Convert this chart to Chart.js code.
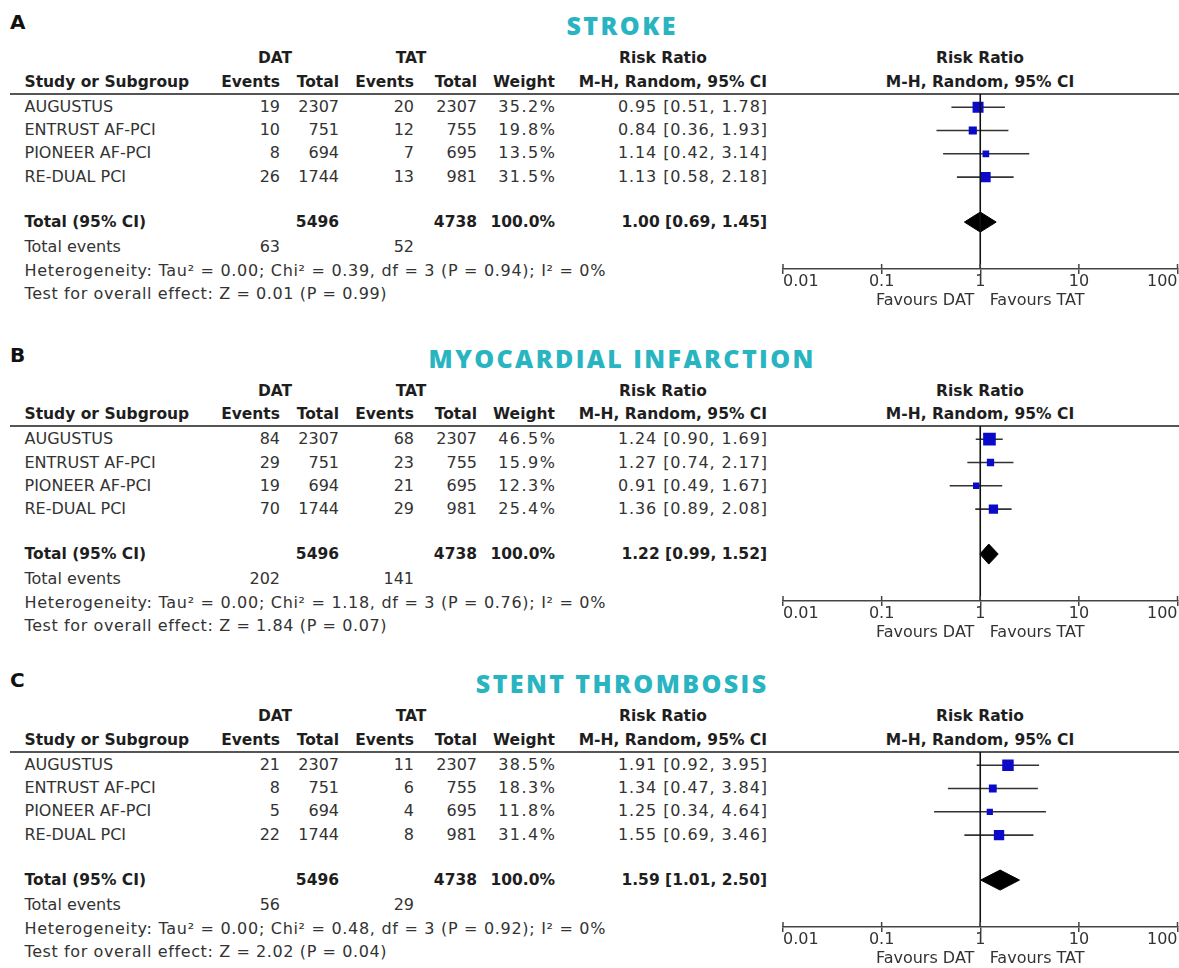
<!DOCTYPE html>
<html>
<head>
<meta charset="utf-8">
<title>DAT vs TAT forest plots</title>
<script src="https://cdn.jsdelivr.net/npm/chart.js@4.4.0/dist/chart.umd.min.js"></script>
<style>
  body { margin: 0; background: #fff; width: 1179px; height: 968px; position: relative; overflow: hidden;
         font-family: 'DejaVu Sans', sans-serif; color: #333; }
  .panel { position: absolute; left: 0; width: 1179px; height: 330px; }
  .t { position: absolute; white-space: nowrap; line-height: 20px; height: 20px; font-size: 16px; }
  .b { font-weight: bold; font-size: 15.5px; color: #1e1e1e; }
  .letter { position: absolute; left: 10px; font-weight: bold; font-size: 20px; line-height: 24px; color: #111; }
  .title { position: absolute; width: 600px; text-align: center; font-family: 'Open Sans', sans-serif;
           font-weight: 800; font-size: 25px; line-height: 30px; letter-spacing: 2.4px; color: #29b4c2; }
  .rule { position: absolute; left: 10px; width: 1169px; height: 2px; background: #555; }
  .plot { position: absolute; left: 770px; line-height: 0; }
  .plot canvas { display: block; }
</style>
</head>
<body>
<script>
// --- data ---
const studies = ['AUGUSTUS', 'ENTRUST AF-PCI', 'PIONEER AF-PCI', 'RE-DUAL PCI'];
const datTotals = [2307, 751, 694, 1744];
const tatTotals = [2307, 755, 695, 981];
const axisTicks = [0.01, 0.1, 1, 10, 100];

const panelLetters = ['A', 'B', 'C'];
const panelTitles = ['STROKE', 'MYOCARDIAL INFARCTION', 'STENT THROMBOSIS'];

// A. stroke
const strokeDatEvents = [19, 10, 8, 26];
const strokeTatEvents = [20, 12, 7, 13];
const strokeWeights = [35.2, 19.8, 13.5, 31.5];
const strokeRR = [0.95, 0.84, 1.14, 1.13];
const strokeLower = [0.51, 0.36, 0.42, 0.58];
const strokeUpper = [1.78, 1.93, 3.14, 2.18];
const strokeTotal = [1.00, 0.69, 1.45];

// B. myocardial infarction
const miDatEvents = [84, 29, 19, 70];
const miTatEvents = [68, 23, 21, 29];
const miWeights = [46.5, 15.9, 12.3, 25.4];
const miRR = [1.24, 1.27, 0.91, 1.36];
const miLower = [0.90, 0.74, 0.49, 0.89];
const miUpper = [1.69, 2.17, 1.67, 2.08];
const miTotal = [1.22, 0.99, 1.52];

// C. stent thrombosis
const stDatEvents = [21, 8, 5, 22];
const stTatEvents = [11, 6, 4, 8];
const stWeights = [38.5, 18.3, 11.8, 31.4];
const stRR = [1.91, 1.34, 1.25, 1.55];
const stLower = [0.92, 0.47, 0.34, 0.69];
const stUpper = [3.95, 3.84, 4.64, 3.46];
const stTotal = [1.59, 1.01, 2.50];

const totalWeight = ['100.0%', '100.0%', '100.0%'];
const totalDatEvents = [63, 202, 56];
const totalTatEvents = [52, 141, 29];
const hetTau2 = ['0.00', '0.00', '0.00'];
const hetChi2 = ['0.39', '1.18', '0.48'];
const hetDf = [3, 3, 3];
const hetP = ['0.94', '0.76', '0.92'];
const hetI2 = ['0%', '0%', '0%'];
const effectZ = ['0.01', '1.84', '2.02'];
const effectP = ['0.99', '0.07', '0.04'];

// --- layout ---
const PANEL_TOP = [0, 332.5, 658];
const RULE_Y = 93.5;       // header rule, also top of plot area
const ROW_Y0 = 106.7;      // first study row
const ROW_STEP = 23.3;
const TOTAL_ROW = 5.93;    // total row, in row units
const AXIS_Y = 268.5;
const Y_MIN = 1 - (ROW_Y0 - RULE_Y) / ROW_STEP;
const Y_MAX = 1 + (AXIS_Y - ROW_Y0) / ROW_STEP;

const panels = [
  { datEv: strokeDatEvents, tatEv: strokeTatEvents, w: strokeWeights, rr: strokeRR, lo: strokeLower, hi: strokeUpper, tot: strokeTotal },
  { datEv: miDatEvents, tatEv: miTatEvents, w: miWeights, rr: miRR, lo: miLower, hi: miUpper, tot: miTotal },
  { datEv: stDatEvents, tatEv: stTatEvents, w: stWeights, rr: stRR, lo: stLower, hi: stUpper, tot: stTotal },
];

const sum = arr => arr.reduce((a, b) => a + b, 0);
const ci = (r, l, h) => `${r.toFixed(2)} [${l.toFixed(2)}, ${h.toFixed(2)}]`;
const rowPx = idx => ROW_Y0 + (idx - 1) * ROW_STEP;

function addText(parent, x, y, str, opts = {}) {
  const el = document.createElement('div');
  el.className = 't' + (opts.bold ? ' b' : '');
  el.textContent = str;
  const align = opts.align || 'left';
  const ls = opts.ls || 0;
  const w = 640;
  let left = x;
  if (align === 'right') left = x - w + ls;
  else if (align === 'center') left = x - w / 2 + ls / 2;
  el.style.left = left + 'px';
  el.style.width = w + 'px';
  el.style.textAlign = align;
  el.style.top = (y - 10) + 'px';
  if (ls) el.style.letterSpacing = ls + 'px';
  parent.appendChild(el);
}

// columns (right edges unless noted)
const COL = { name: 24.5, datEv: 280, datTot: 339, tatEv: 414, tatTot: 477, weight: 555, ci: 767 };

// small upward tick marks across the axis line
const tickUp = {
  id: 'tickUp',
  afterDraw(chart) {
    const { ctx, scales: { x }, chartArea } = chart;
    ctx.save();
    ctx.strokeStyle = '#444';
    ctx.lineWidth = 1.5;
    axisTicks.forEach(v => {
      const px = x.getPixelForValue(v);
      ctx.beginPath();
      ctx.moveTo(px, chartArea.bottom - 5);
      ctx.lineTo(px, chartArea.bottom);
      ctx.stroke();
    });
    ctx.restore();
  }
};

Chart.defaults.font.family = "'DejaVu Sans', sans-serif";

panels.forEach((p, k) => {
  const panel = document.createElement('div');
  panel.className = 'panel';
  panel.style.top = PANEL_TOP[k] + 'px';
  document.body.appendChild(panel);

  const letter = document.createElement('div');
  letter.className = 'letter';
  letter.textContent = panelLetters[k];
  letter.style.top = (22 - 12) + 'px';
  panel.appendChild(letter);

  const title = document.createElement('div');
  title.className = 'title';
  title.textContent = panelTitles[k];
  title.style.left = (621 - 300 + 1.2) + 'px';
  title.style.top = (25 - 15) + 'px';
  panel.appendChild(title);

  // header
  addText(panel, 275, 58, 'DAT', { bold: true, align: 'center' });
  addText(panel, 411, 58, 'TAT', { bold: true, align: 'center' });
  addText(panel, 663, 58, 'Risk Ratio', { bold: true, align: 'center' });
  addText(panel, 980, 58, 'Risk Ratio', { bold: true, align: 'center' });
  addText(panel, COL.name, 81.5, 'Study or Subgroup', { bold: true });
  addText(panel, COL.datEv, 81.5, 'Events', { bold: true, align: 'right' });
  addText(panel, COL.datTot, 81.5, 'Total', { bold: true, align: 'right' });
  addText(panel, COL.tatEv, 81.5, 'Events', { bold: true, align: 'right' });
  addText(panel, COL.tatTot, 81.5, 'Total', { bold: true, align: 'right' });
  addText(panel, COL.weight, 81.5, 'Weight', { bold: true, align: 'right' });
  addText(panel, COL.ci, 81.5, 'M-H, Random, 95% CI', { bold: true, align: 'right' });
  addText(panel, 980, 81.5, 'M-H, Random, 95% CI', { bold: true, align: 'center' });

  const rule = document.createElement('div');
  rule.className = 'rule';
  rule.style.top = (RULE_Y - 1) + 'px';
  panel.appendChild(rule);

  // study rows
  studies.forEach((s, i) => {
    const y = rowPx(i + 1);
    addText(panel, COL.name, y, s);
    addText(panel, COL.datEv, y, String(p.datEv[i]), { align: 'right' });
    addText(panel, COL.datTot, y, String(datTotals[i]), { align: 'right' });
    addText(panel, COL.tatEv, y, String(p.tatEv[i]), { align: 'right' });
    addText(panel, COL.tatTot, y, String(tatTotals[i]), { align: 'right' });
    addText(panel, COL.weight, y, p.w[i].toFixed(1) + '%', { align: 'right', ls: 1.5 });
    addText(panel, COL.ci, y, ci(p.rr[i], p.lo[i], p.hi[i]), { align: 'right', ls: 0.9 });
  });

  // total row and footnotes
  const ty = rowPx(TOTAL_ROW);
  addText(panel, COL.name, ty, 'Total (95% CI)', { bold: true });
  addText(panel, COL.datTot, ty, String(sum(datTotals)), { bold: true, align: 'right' });
  addText(panel, COL.tatTot, ty, String(sum(tatTotals)), { bold: true, align: 'right' });
  addText(panel, COL.weight, ty, totalWeight[k], { bold: true, align: 'right' });
  addText(panel, COL.ci, ty, ci(p.tot[0], p.tot[1], p.tot[2]), { bold: true, align: 'right' });
  addText(panel, COL.name, 246.5, 'Total events');
  addText(panel, COL.datEv, 246.5, String(totalDatEvents[k]), { align: 'right' });
  addText(panel, COL.tatEv, 246.5, String(totalTatEvents[k]), { align: 'right' });
  addText(panel, COL.name, 270.5,
    `Heterogeneity: Tau² = ${hetTau2[k]}; Chi² = ${hetChi2[k]}, df = ${hetDf[k]} (P = ${hetP[k]}); I² = ${hetI2[k]}`, { ls: 0.7 });
  addText(panel, COL.name, 293.5, `Test for overall effect: Z = ${effectZ[k]} (P = ${effectP[k]})`, { ls: 0.6 });

  // forest plot
  const wrap = document.createElement('div');
  wrap.className = 'plot';
  wrap.style.top = RULE_Y + 'px';
  const canvas = document.createElement('canvas');
  canvas.width = 409;
  canvas.height = 215;
  wrap.appendChild(canvas);
  panel.appendChild(wrap);

  const ciSets = studies.map((s, i) => ({
    label: s,
    data: [{ x: p.lo[i], y: i + 1 }, { x: p.hi[i], y: i + 1 }],
    showLine: true, borderColor: '#333', borderWidth: 1.6, pointRadius: 0, order: 3
  }));
  // square area follows the study weight
  const squares = {
    label: 'Study estimate',
    data: p.rr.map((r, i) => ({ x: r, y: i + 1 })),
    pointStyle: 'rect',
    pointRadius: p.w.map(w => (1.9 * Math.sqrt(w) - 0.3) / Math.SQRT2),
    backgroundColor: '#0a0ac8', borderWidth: 0, order: 2
  };
  const h = 0.43;
  const diamond = {
    label: 'Total',
    data: [
      { x: p.tot[1], y: TOTAL_ROW }, { x: p.tot[0], y: TOTAL_ROW - h },
      { x: p.tot[2], y: TOTAL_ROW }, { x: p.tot[0], y: TOTAL_ROW + h },
      { x: p.tot[1], y: TOTAL_ROW }
    ],
    showLine: true, fill: 'shape', backgroundColor: '#000', borderColor: '#000', borderWidth: 1,
    pointRadius: 0, order: 1
  };
  const nullLine = {
    label: 'No effect',
    data: [{ x: 1, y: Y_MIN }, { x: 1, y: Y_MAX }],
    showLine: true, borderColor: '#111', borderWidth: 1.6, pointRadius: 0, order: 0
  };

  new Chart(canvas, {
    type: 'scatter',
    data: { datasets: [...ciSets, squares, diamond, nullLine] },
    options: {
      responsive: false,
      animation: false,
      events: [],
      layout: { autoPadding: false, padding: { left: 13, right: 1.5, top: 0, bottom: 0 } },
      plugins: { legend: { display: false }, tooltip: { enabled: false } },
      scales: {
        x: {
          type: 'logarithmic',
          min: 0.01, max: 100,
          afterBuildTicks: s => { s.ticks = axisTicks.map(v => ({ value: v })); },
          afterFit: s => { s.height = 40; },
          ticks: {
            callback: v => String(v), autoSkip: false, maxRotation: 0, align: 'inner',
            color: '#333', padding: 0, font: { size: 16, lineHeight: 1 }
          },
          grid: { drawOnChartArea: false, drawTicks: true, tickLength: 5, color: '#444', lineWidth: 1.5 },
          border: { display: true, color: '#444', width: 1.6 },
          title: {
            display: true, text: 'Favours DAT   Favours TAT', color: '#333',
            font: { size: 16, lineHeight: 1 }, padding: { top: 0, bottom: 0 }
          }
        },
        y: {
          type: 'linear', display: false, reverse: true, min: Y_MIN, max: Y_MAX,
          ticks: { display: false },
          afterFit: s => { s.width = 0; s.paddingTop = 0; s.paddingBottom = 0; }
        }
      }
    },
    plugins: [tickUp]
  });
});
</script>
</body>
</html>
